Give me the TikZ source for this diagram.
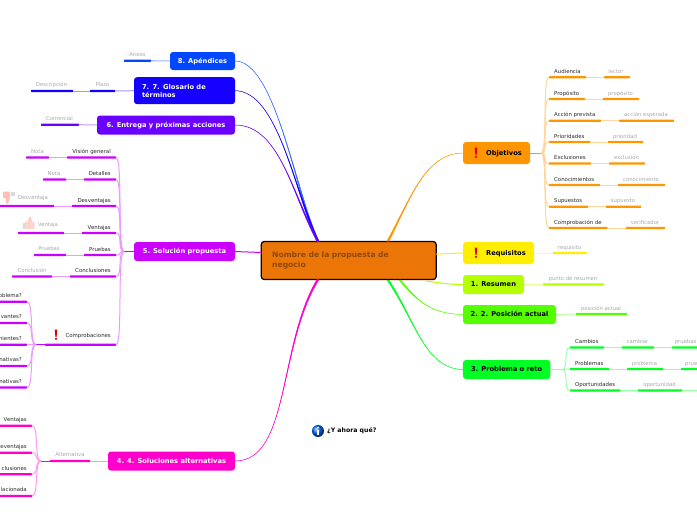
\documentclass[tikz,border=0pt]{standalone}
\usepackage{fontspec}
\setmainfont{DejaVu Sans}
\usetikzlibrary{calc}

\definecolor{rootfill}{HTML}{EC7508}
\definecolor{roottext}{HTML}{8A4A0E}
\definecolor{capen}{HTML}{0047FF}
\definecolor{cglos}{HTML}{1500FF}
\definecolor{centr}{HTML}{6A00FF}
\definecolor{csolu}{HTML}{CC00FF}
\definecolor{calte}{HTML}{FF00CC}
\definecolor{cobje}{HTML}{FF9500}
\definecolor{crequ}{HTML}{FFEE00}
\definecolor{cresu}{HTML}{B4FF00}
\definecolor{cposi}{HTML}{55FF00}
\definecolor{cprob}{HTML}{00FF22}
\definecolor{headtext}{HTML}{2A2A2A}
\definecolor{leaftext}{HTML}{A6A6A6}

\tikzset{
  topic/.style={rectangle, rounded corners=3pt, inner sep=0pt, outer sep=0pt, text depth=1.4pt, text height=5.6pt,
    font=\fontsize{6.7}{8.4}\selectfont\bfseries},
  bar/.style={rectangle, anchor=west, rounded corners=.6pt, inner sep=0pt, outer sep=0pt, minimum height=2.3pt},
  head/.style={inner sep=0pt, yshift=-.6pt, text=headtext, text height=4.4pt, text depth=.4pt, font=\fontsize{5.4}{6}\selectfont},
  leaf/.style={inner sep=0pt, yshift=-.6pt, text=leaftext, text height=4.4pt, text depth=.4pt, font=\fontsize{5.3}{6}\selectfont},
  limb/.style={draw=#1!40, line width=1pt},
  sprigR/.style={out=0, in=180, distance=7pt},
  sprigL/.style={out=180, in=0, distance=7pt},
}

% bar under a label: name, colour, left, right, y
\newcommand{\twig}[5]{\node[bar, fill=#2, minimum width=#4-#3] (#1) at (#3,#5) {};}
% branch from the centre that gets thinner: start, end, colour, control 1, control 2
\newcommand{\bough}[5]{\filldraw[#3, line width=.5pt] (#1) .. controls #4 and #5 .. ($(#2)+(1,0)$)
  -- ($(#2)+(-1,0)$) .. controls #5 and #4 .. (#1) -- cycle;}
% red sign
\newcommand{\warn}[2]{\fill[red!85!black] (#1-1.3,#2-5.5) -- (#1+1.3,#2-5.5) -- (#1+.6,#2+1.8) -- (#1-.6,#2+1.8) -- cycle;
  \fill[red!85!black] (#1,#2+3.9) circle (1.2);}

\begin{document}
\begin{tikzpicture}[x=1pt, y=-1pt]
  \useasboundingbox (0,0) rectangle (697,520);
  \clip (0,0) rectangle (697,520);

  \node[topic, fill=rootfill, draw=black, line width=1.2pt, minimum width=175pt, minimum height=38pt,
    text width=153pt, text height=, text depth=, align=left, text=roottext, font=\fontsize{7.6}{10.6}\selectfont\bfseries] (root) at (348.7,260.5)
    {Nombre de la propuesta de\\negocio};

  % left side
  \node[topic, fill=capen, text=white, minimum width=65pt, minimum height=18pt] (apen) at (202.5,61) {8. Apéndices};
  \node[topic, fill=cglos, text=white, minimum width=101pt, minimum height=27pt, text width=85pt, text height=, text depth=, align=left] (glos) at (184.5,90.7) {7. 7. Glosario de\\términos};
  \node[topic, fill=centr, text=white, minimum width=138pt, minimum height=19pt] (entr) at (166,125) {6. Entrega y próximas acciones};
  \node[topic, fill=csolu, text=white, minimum width=101pt, minimum height=19pt] (solu) at (184.5,251.5) {5. Solución propuesta};
  \node[topic, fill=calte, text=white, minimum width=127pt, minimum height=19pt] (alte) at (171.5,461) {4. 4. Soluciones alternativas};

  % right side
  \node[topic, fill=cobje, text=black, minimum width=67pt, minimum height=22pt] (obje) at (496.5,153) {\hspace*{15pt}Objetivos};
  \node[topic, fill=crequ, text=black, minimum width=71pt, minimum height=22pt] (requ) at (498.5,253) {\hspace*{15pt}Requisitos};
  \node[topic, fill=cresu, text=black, minimum width=61pt, minimum height=19pt] (resu) at (493.5,284.5) {1. Resumen};
  \node[topic, fill=cposi, text=black, minimum width=93pt, minimum height=19pt] (posi) at (509.5,314.5) {2. 2. Posición actual};
  \node[topic, fill=cprob, text=black, minimum width=87.5pt, minimum height=19pt] (prob) at (506.7,369.5) {3. Problema o reto};

  % hubs
  \coordinate (soluHub) at (124,251.5);
  \coordinate (compHub) at (36,344.7);
  \coordinate (alteHub) at (41,461);
  \coordinate (objeHub) at (541,153);
  \coordinate (probHub) at (562,369.5);
  \coordinate (rootN) at (318,241.5);
  \coordinate (rootS) at (318,279.5);

  % branches from the centre
  \bough{apen.east}{rootN}{capen!80}{(275,61)}{(295,190)}
  \bough{glos.east}{rootN}{cglos}{(278,91)}{(294,190)}
  \bough{entr.east}{rootN}{centr}{(280,125)}{(292,195)}
  \draw[csolu, line width=1pt] (solu.east) -- (root.west |- 0,252.5);
  \bough{alte.east}{rootS}{calte}{(290,461)}{(278,345)}
  \bough{obje.west}{388,241}{cobje}{(425,153)}{(410,200)}
  \draw[crequ, line width=1pt] (requ.west) -- (root.east |- 0,254);
  \draw[cresu, line width=1pt] (resu.west) .. controls (450,284.5) and (440,283) .. (426,281);
  \bough{posi.west}{400,280}{cposi}{(435,314)}{(420,305)}
  \bough{prob.west}{388,280}{cprob}{(425,369)}{(415,320)}

  % left twigs
  \twig{anexBar}{capen}{124}{151}{60.7}
  \node[leaf] (anexTxt) at (137.5,54) {Anexo};
  \draw[limb=capen] (anexBar.east) -- (apen.west);

  \twig{plazBar}{cglos}{90}{115}{91}
  \twig{descBar}{cglos}{31}{73}{91}
  \node[leaf] (plazTxt) at (102.5,84) {Plazo};
  \node[leaf] (descTxt) at (51.5,84) {Descripción};
  \draw[limb=cglos] (plazBar.east) -- (glos.west);
  \draw[limb=cglos] (descBar.east) -- (plazBar.west);

  \twig{comeBar}{centr}{41}{79}{124.7}
  \node[leaf] (comeTxt) at (59.5,118) {Comercial};
  \draw[limb=centr] (comeBar.east) -- (entr.west);

  % solucion propuesta rows
  \draw[csolu, line width=1pt] (solu.west) -- (soluHub);
  \foreach \id/\bx/\by/\word/\cx/\ce/\cc/\cword/\cy in {
      visi/67/157.5/Visión general/26/49/37.5/Nota/151,
      deta/84/179.5/Detalles/43/66/54/Nota/173,
      desv/72/206/Desventajas/0/54/33/Desventaja/197,
      vent/82/233/Ventajas/18/64/48/Ventaja/224,
      prue/84/255/Pruebas/34/66/49/Pruebas/248,
      conc/70/276.5/Conclusiones/12/52/32/Conclusión/270} {
    \twig{\id Bar}{csolu}{\bx}{116}{\by}
    \twig{\id Sub}{csolu}{\cx}{\ce}{\by}
    \node[head, anchor=east] (\id Txt) at (111,\by-6.5) {\word};
    \node[leaf] (\id Low) at (\cc,\cy) {\cword};
    \draw[limb=csolu] (\id Sub.east) -- (\id Bar.west);
    \draw[limb=csolu] (soluHub) to[sprigL] (\id Bar.east);
  }

  % thumbs
  \fill[orange!30!red!30, rounded corners=1pt] (3,191.5) rectangle (10,198);
  \fill[orange!30!red!30] (5.5,198) -- (10,198) -- (8,203.5) -- (6.5,203.5) -- cycle;
  \fill[gray!30] (10.5,191.5) rectangle (14.5,196);
  \fill[orange!30!red!20, rounded corners=1pt] (25,221.5) rectangle (34.5,229);
  \fill[orange!30!red!25] (27.5,221.5) -- (32,221.5) -- (31,217) -- (29.5,217) -- cycle;
  \fill[gray!30] (22.5,223) rectangle (25,229);

  % comprobaciones
  \twig{compBar}{csolu}{45}{116}{344.7}
  \node[head, anchor=east] (compTxt) at (111,335) {Comprobaciones};
  \warn{56}{335}
  \draw[limb=csolu] (soluHub) to[sprigL] (compBar.east);
  \draw[csolu, line width=1pt] (compBar.west) -- (compHub);
  \foreach \id/\by/\word in {
      chka/301.7/oblema?, chkb/323/vantes?, chkc/344.7/nientes?,
      chkd/366/nativas?, chke/387.5/nativas?} {
    \twig{\id}{csolu}{-1}{27}{\by}
    \node[head, anchor=east] (\id Txt) at (22,\by-6.7) {\word};
    \draw[limb=csolu] (compHub) to[sprigL] (\id.east);
  }

  % alternativas
  \twig{altsBar}{calte}{50}{90}{461}
  \node[leaf] (altsTxt) at (70,454) {Alternativa};
  \draw[limb=calte] (altsBar.east) -- (alte.west);
  \draw[calte, line width=1pt] (altsBar.west) -- (alteHub);
  \foreach \id/\by/\word in {
      alta/425.7/Ventajas, altb/452.7/eventajas, altc/474.3/clusiones, altd/496/lacionada} {
    \twig{\id}{calte}{-1}{32}{\by}
    \node[head, anchor=east] (\id Txt) at (27,\by-6.7) {\word};
    \draw[limb=calte] (alteHub) to[sprigL] (\id.east);
  }

  % objetivos rows
  \warn{476}{153}
  \draw[cobje, line width=1pt] (obje.east) -- (objeHub);
  \foreach \id/\be/\by/\word/\cx/\ce/\cc/\cword in {
      audi/586/77.3/Audiencia/604/630/616/lector,
      prop/585/99/Propósito/603/639/620.5/propósito,
      acci/601/120.7/Acción prevista/619/674/646/acción esperada,
      prio/590/142/Prioridades/608/643/625/prioridad,
      excl/591/163.5/Exclusiones/609/645/626.5/exclusión,
      cono/600/185/Conocimientos/618/665/641/conocimiento,
      supu/588/206.7/Supuestos/606/641/623/supuesto,
      comp/607.5/228/Comprobación de/626/665/645/verificador} {
    \twig{\id Bar}{cobje}{549}{\be}{\by}
    \twig{\id Sub}{cobje}{\cx}{\ce}{\by}
    \node[head, anchor=west] (\id Txt) at (554,\by-6.5) {\word};
    \node[leaf] (\id Low) at (\cc,\by-6.5) {\cword};
    \draw[limb=cobje] (\id Bar.east) -- (\id Sub.west);
    \draw[limb=cobje] (objeHub) to[sprigR] (\id Bar.west);
  }

  % single rows
  \warn{476}{253}
  \twig{requBar}{crequ}{553}{587}{253}
  \node[leaf] (requTxt) at (569.6,247) {requisito};
  \draw[limb=crequ] (requ.east) -- (requBar.west);

  \twig{resuBar}{cresu}{543}{604}{284.5}
  \node[leaf] (resuTxt) at (573,278) {punto de resumen};
  \draw[limb=cresu] (resu.east) -- (resuBar.west);

  \twig{posiBar}{cposi}{576}{627}{314}
  \node[leaf] (posiTxt) at (601,307.5) {posición actual};
  \draw[limb=cposi] (posi.east) -- (posiBar.west);

  % problema rows
  \draw[limb=cprob, line width=1.3pt] (prob.east) -- (probHub);
  \foreach \id/\be/\by/\word/\cx/\ce/\cc/\cword in {
      camb/604/347.5/Cambios/622/654/637.5/cambiar,
      prbl/609/369/Problemas/627/663/644.5/problema,
      opor/620.5/390.5/Oportunidades/638/682/659.5/oportunidad} {
    \twig{\id Bar}{cprob}{570}{\be}{\by}
    \twig{\id Sub}{cprob}{\cx}{\ce}{\by}
    \node[head, anchor=west] (\id Txt) at (575,\by-6.5) {\word};
    \node[leaf] (\id Low) at (\cc,\by-6.5) {\cword};
    \draw[limb=cprob] (\id Bar.east) -- (\id Sub.west);
    \draw[limb=cprob] (probHub) to[sprigR] (\id Bar.west);
  }
  \twig{cambEnd}{cprob}{672}{698}{347.5}
  \twig{prblEnd}{cprob}{681}{698}{369}
  \coordinate (oporEnd) at (697,390.5);
  \node[leaf, anchor=east] (cambEndTxt) at (696.5,341) {pruebas};
  \node[leaf, anchor=west] (prblEndTxt) at (685,362.5) {prue};
  \draw[limb=cprob] (cambSub.east) -- (cambEnd.west);
  \draw[limb=cprob] (prblSub.east) -- (prblEnd.west);
  \draw[limb=cprob] (oporSub.east) -- (oporEnd);

  % note at the bottom
  \shade[ball color=blue!60!cyan] (318,431) circle (6);
  \fill[white] (318,427.6) circle (.9);
  \fill[white] (317.1,429.6) rectangle (318.9,435);
  \node[anchor=west, inner sep=0pt, text=black, font=\fontsize{6.2}{7}\selectfont\bfseries] (notaTxt) at (327,431) {¿Y ahora qué?};
\end{tikzpicture}
\end{document}
